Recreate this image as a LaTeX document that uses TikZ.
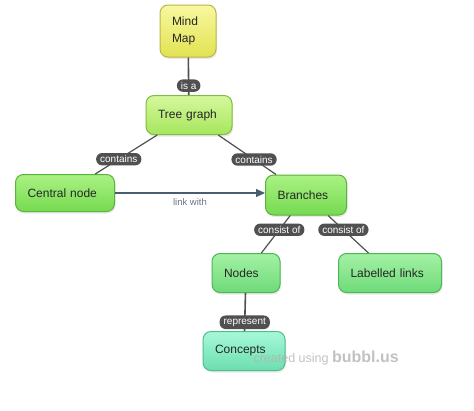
\documentclass[tikz,border=0pt]{standalone}
\usepackage{fontspec}
\setmainfont{Liberation Sans}
\usetikzlibrary{arrows.meta,shadows}

\definecolor{ymapTop}{HTML}{F8F8A0}
\definecolor{ymapBot}{HTML}{E2E252}
\definecolor{ymapLine}{HTML}{B8B844}
\definecolor{treeTop}{HTML}{D6F89C}
\definecolor{treeBot}{HTML}{A6E65E}
\definecolor{treeLine}{HTML}{7EBE3E}
\definecolor{brTop}{HTML}{AAF284}
\definecolor{brBot}{HTML}{76DA50}
\definecolor{brLine}{HTML}{58B43A}
\definecolor{ndTop}{HTML}{A4F2A4}
\definecolor{ndBot}{HTML}{6EDA78}
\definecolor{ndLine}{HTML}{4EB656}
\definecolor{cpTop}{HTML}{A6F8DA}
\definecolor{cpBot}{HTML}{6CDEAE}
\definecolor{cpLine}{HTML}{4EBE8E}
\definecolor{linkDark}{HTML}{505050}
\definecolor{slate}{HTML}{4C5C70}

\begin{document}
\begin{tikzpicture}[x=1pt, y=-1pt,
  box/.style={rounded corners=8pt, line width=1pt, inner xsep=12pt, inner ysep=0pt,
    align=left, font=\fontsize{12}{17}\selectfont, text=black!85,
    drop shadow={opacity=0.18, shadow xshift=1pt, shadow yshift=-2pt}},
  tag/.style={fill=linkDark, text=white, rounded corners=6pt, inner xsep=4pt,
    inner ysep=2.5pt, font=\fontsize{10}{11}\selectfont},
  edge/.style={linkDark, line width=1.6pt}]

\useasboundingbox (0,0) rectangle (474,410);

\node[box, top color=ymapTop, bottom color=ymapBot, draw=ymapLine,
      text width=32pt, minimum height=52pt] (mindmap) at (188,31) {Mind\\Map};
\node[box, top color=treeTop, bottom color=treeBot, draw=treeLine,
      text width=62pt, minimum height=39pt] (tree) at (189,115) {Tree graph};
\node[box, top color=brTop, bottom color=brBot, draw=brLine,
      text width=75pt, minimum height=37pt] (central) at (65,193) {Central node};
\node[box, top color=brTop, bottom color=brBot, draw=brLine,
      text width=57pt, minimum height=40pt] (branches) at (306,195) {Branches};
\node[box, top color=ndTop, bottom color=ndBot, draw=ndLine,
      text width=44pt, minimum height=39pt] (nodes) at (246,273) {Nodes};
\node[box, top color=ndTop, bottom color=ndBot, draw=ndLine,
      text width=79pt, minimum height=39pt] (labelled) at (390,273) {Labelled links};
\node[box, top color=cpTop, bottom color=cpBot, draw=cpLine,
      text width=58pt, minimum height=39pt] (concepts) at (244,351) {Concepts};

\draw[edge] (mindmap) -- node[tag, pos=0.75] {is a} (tree);
\draw[edge, line width=1.2pt] (tree) -- node[tag, pos=0.62] {contains} (central);
\draw[edge, line width=1.2pt] (tree) -- node[tag, pos=0.62] {contains} (branches);
\draw[edge, line width=1.2pt] (branches) -- node[tag, pos=0.38] {consist of} (nodes);
\draw[edge, line width=1.2pt] (branches) -- node[tag, pos=0.38] {consist of} (labelled);
\draw[edge] (nodes) -- node[tag, pos=0.77] {represent} (concepts);

\draw[slate, line width=1.2pt, -{Triangle[length=9pt, width=8pt]}]
  (central) -- node[below=2pt, text=slate!85, font=\fontsize{9.5}{11}\selectfont] {link with}
  (branches.west |- central);

\node[anchor=west, text=black!30, font=\fontsize{12.5}{14}\selectfont, opacity=0.8] (credit) at (250,358)
  {created using \textbf{\fontsize{16}{16}\selectfont bubbl.us}};

\end{tikzpicture}
\end{document}
